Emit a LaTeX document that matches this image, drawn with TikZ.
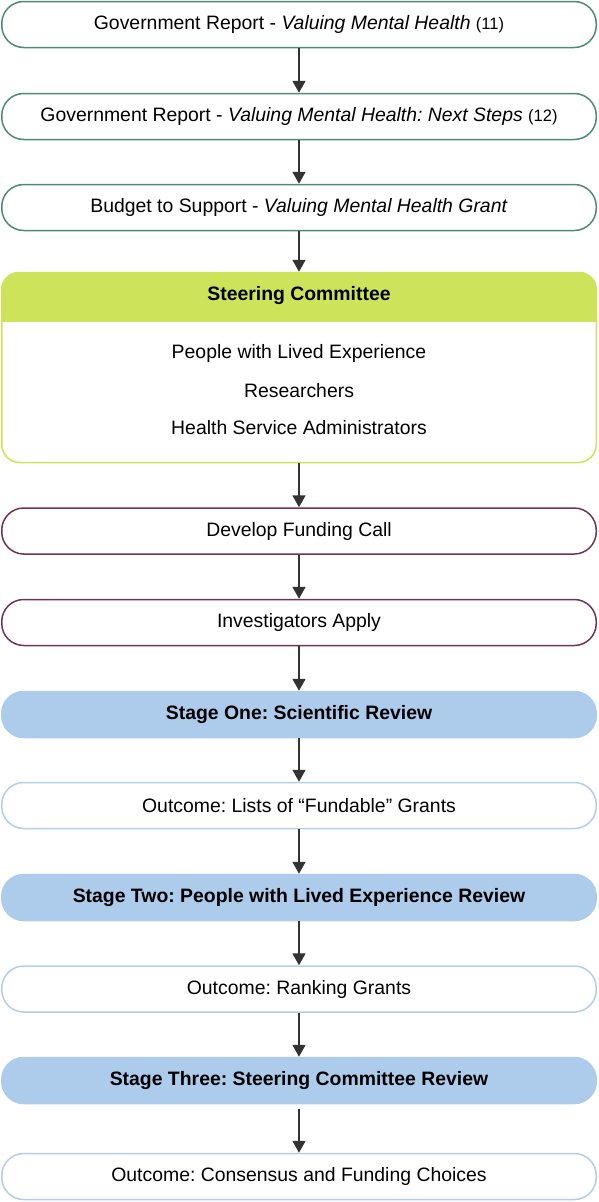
\documentclass[tikz,border=0pt]{standalone}
\usepackage{fontspec}
\setmainfont{Liberation Sans}
\usepackage{xcolor}
\usetikzlibrary{arrows.meta,calc,positioning}
\frenchspacing

\definecolor{reportgreen}{HTML}{4E8A72}
\definecolor{steerlime}{HTML}{CDE35A}
\definecolor{callplum}{HTML}{6E3355}
\definecolor{stageblue}{HTML}{ADCBEB}
\definecolor{outblue}{HTML}{B3CDEA}
\definecolor{arrowgray}{HTML}{333333}
\newcommand{\refno}[1]{{\fontsize{16.5}{18}\selectfont(#1)}}

\begin{document}
\begin{tikzpicture}[x=1pt,y=1pt,->,>={Triangle[length=12pt,width=13pt]},line width=1.5pt,
	font=\fontsize{19.4}{22}\selectfont]
	\tikzstyle{pill} = [draw,rectangle,rounded corners=22pt,fill=white,minimum width=594.5pt,minimum height=46pt,inner sep=0pt,line width=1.5pt]
	\tikzstyle{report} = [pill,draw=reportgreen]
	\tikzstyle{callbox} = [pill,draw=callplum]
	\tikzstyle{stagebox} = [pill,draw=stageblue,fill=stageblue,font=\fontsize{19.4}{22}\selectfont\bfseries]
	\tikzstyle{outbox} = [pill,draw=outblue]
	\tikzstyle{flow} = [draw=arrowgray,line width=1.8pt]
	\useasboundingbox (0,0) rectangle (598,-1202);
	
	\node[report] (report1) at (299,-24.5) {Government Report - \textit{Valuing Mental Health} \refno{11}};
	\node[report] (report2) at (299,-116.5) {Government Report - \textit{Valuing Mental Health: Next Steps} \refno{12}};
	\node[report] (budget) at (299,-207.5) {Budget to Support - \textit{Valuing Mental Health Grant}};
	
	% steering committee box with header band
	\node[draw=steerlime,rectangle,rounded corners=18pt,minimum width=594.5pt,minimum height=190pt,line width=1.5pt] (steer) at (299,-367.5) {};
	\begin{scope}
		\clip[rounded corners=18pt] (steer.north west) rectangle (steer.south east);
		\fill[steerlime] (steer.north west) rectangle ($(steer.north east)+(0,-50)$);
	\end{scope}
	\node[font=\fontsize{19.4}{22}\selectfont\bfseries] (steerhead) at (299,-296) {Steering Committee};
	\node (member1) at (299,-353) {People with Lived Experience};
	\node (member2) at (299,-391) {Researchers};
	\node (member3) at (299,-428) {Health Service Administrators};
	
	\node[callbox] (call) at (299,-531) {Develop Funding Call};
	\node[callbox] (apply) at (299,-622.5) {Investigators Apply};
	\node[stagebox] (stage1) at (299,-714.5) {Stage One: Scientific Review};
	\node[outbox] (out1) at (299,-805.5) {Outcome: Lists of ``Fundable'' Grants};
	\node[stagebox] (stage2) at (299,-897.5) {Stage Two: People with Lived Experience Review};
	\node[outbox] (out2) at (299,-989) {Outcome: Ranking Grants};
	\node[stagebox] (stage3) at (299,-1080.5) {Stage Three: Steering Committee Review};
	\node[outbox] (out3) at (299,-1176.5) {Outcome: Consensus and Funding Choices};
	
	\draw[flow] (report1) -- (report2);
	\draw[flow] (report2) -- (budget);
	\draw[flow] (budget) -- (steer);
	\draw[flow] (steer) -- (call);
	\draw[flow] (call) -- (apply);
	\draw[flow] (apply) -- (stage1);
	\draw[flow] (stage1) -- (out1);
	\draw[flow] (out1) -- (stage2);
	\draw[flow] (stage2) -- (out2);
	\draw[flow] (out2) -- (stage3);
	\draw[flow,shorten <=5pt] (stage3) -- (out3);
\end{tikzpicture}
\end{document}
